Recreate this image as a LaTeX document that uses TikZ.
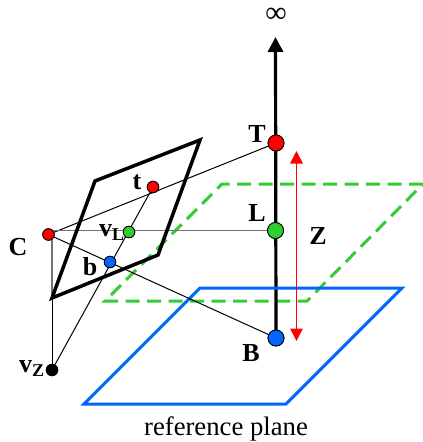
\documentclass[tikz,border=0pt]{standalone}
\usepackage{fontspec}
\setmainfont{Liberation Serif}
\usetikzlibrary{arrows.meta}
\definecolor{pgreen}{RGB}{50,205,50}
\definecolor{pblue}{RGB}{0,102,255}
\tikzset{
  x=1pt,y=-1pt,
  bigdot/.style={circle,draw=black,line width=0.8pt,inner sep=0pt,minimum size=16pt},
  smalldot/.style={circle,draw=black,line width=0.8pt,inner sep=0pt,minimum size=11.5pt},
  lab/.style={font=\fontsize{26}{26}\selectfont\bfseries,inner sep=0pt},
  ray/.style={line width=1pt,black},
  grayray/.style={line width=1.4pt,black!55},
  greenplane/.style={draw=pgreen,line width=3pt,dash pattern=on 14pt off 7.5pt},
  blueplane/.style={draw=pblue,line width=3pt,line join=miter},
  blackplane/.style={draw=black,line width=3.5pt,line join=miter},
}
\begin{document}
\begin{tikzpicture}
\useasboundingbox (0,0) rectangle (423,442);
% named points
\node[bigdot,fill=red] (T) at (276,143) {};
\node[bigdot,fill=pgreen] (L) at (275.5,230.5) {};
\node[bigdot,fill=pblue] (B) at (276,338) {};
\node[smalldot,fill=red] (C) at (48.5,234.5) {};
\node[smalldot,fill=red] (tt) at (153,187) {};
\node[smalldot,fill=pgreen] (vL) at (129,232) {};
\node[smalldot,fill=pblue] (bb) at (110,262) {};
\node[smalldot,fill=black] (vZ) at (52,370) {};
\coordinate (top) at (275.5,37);
\coordinate (rtop) at (296.5,151);
\coordinate (rbot) at (296.5,341);
\coordinate (corner) at (52,298);
% planes and axis, in stacking order
\draw[greenplane] (423,184) -- (222,184) -- (105,301) -- (307,301) -- cycle;
\draw[line width=3.2pt,-{Triangle[length=15pt,width=15pt]}] (B.center) -- (top);
\draw[blueplane] (200,288) -- (402,288) -- (286,404) -- (84,404) -- cycle;
\draw[red,line width=1.8pt,{Triangle[length=12.5pt,width=12.5pt]}-{Triangle[length=12.5pt,width=12.5pt]}] (rtop) -- (rbot);
% rays
\draw[ray] (C) -- (T);
\draw[grayray] (C |- L) -- (L);
\draw[ray] (C) -- (B);
\draw[ray] (vZ) -- (tt);
\draw[grayray] (vZ |- C) -- (corner);
\draw[ray] (corner) -- (vZ);
% image plane
\draw[blackplane] (95,181) -- (200,140) -- (158,255) -- (corner) -- cycle;
% redraw the points on top
\node[bigdot,fill=red] at (T) {};
\node[bigdot,fill=pgreen] at (L) {};
\node[bigdot,fill=pblue] at (B) {};
\node[smalldot,fill=red] at (C) {};
\node[smalldot,fill=red] at (tt) {};
\node[smalldot,fill=pgreen] at (vL) {};
\node[smalldot,fill=pblue] at (bb) {};
\node[smalldot,fill=black] at (vZ) {};
% labels
\node[font=\fontsize{30}{30}\selectfont,inner sep=0pt,anchor=base] (inf) at (276,22) {∞};
\node[lab] (lT) at (257,134) {T};
\node[lab] (lL) at (257,213) {L};
\node[lab] (lB) at (251,353) {B};
\node[lab] (lZ) at (318,236) {Z};
\node[lab] (lC) at (18,247) {C};
\node[lab] (lt) at (137,182) {t};
\node[lab] (lb) at (90,267) {b};
\node[lab,anchor=base west] (lvL) at (99,236) {v\raisebox{-4pt}{\fontsize{18}{18}\selectfont L}};
\node[lab,anchor=base west] (lvZ) at (19,372) {v\raisebox{-4pt}{\fontsize{18}{18}\selectfont Z}};
\node[font=\fontsize{26.7}{26.7}\selectfont,inner sep=0pt,anchor=base] (ref) at (226,435) {reference plane};
\end{tikzpicture}
\end{document}
